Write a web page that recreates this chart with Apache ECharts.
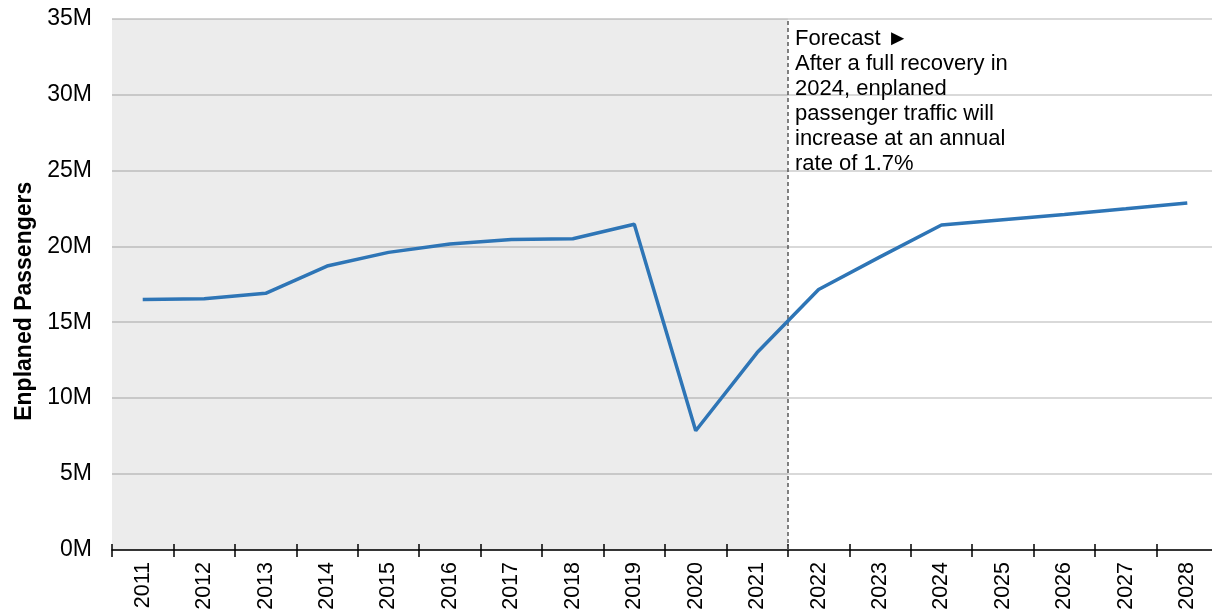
<!DOCTYPE html>
<html>
<head>
<meta charset="utf-8">
<script src="https://cdn.jsdelivr.net/npm/echarts@6/dist/echarts.min.js"></script>
<style>
html,body{margin:0;padding:0;background:#fff;}
#chart{width:1212px;height:615px;}
</style>
</head>
<body>
<div id="chart"></div>
<script>
const years = ['2011','2012','2013','2014','2015','2016','2017','2018','2019','2020','2021','2022','2023','2024','2025','2026','2027','2028'];
const passengers = [16.5, 16.55, 16.9, 18.7, 19.6, 20.15, 20.45, 20.5, 21.45, 7.85, 13.0, 17.15, 19.3, 21.4, 21.75, 22.1, 22.47, 22.85]; // millions
const yTicks = [0, 5, 10, 15, 20, 25, 30, 35];
const historyEndIndex = 11; // shaded history covers 2011–2021
const annotation = 'Forecast \u25BA\nAfter a full recovery in\n2024, enplaned\npassenger traffic will\nincrease at an annual\nrate of 1.7%';

const FONT = '"Liberation Sans", Arial, sans-serif';
const chart = echarts.init(document.getElementById('chart'), null, {renderer: 'canvas'});
chart.setOption({
  animation: false,
  backgroundColor: '#ffffff',
  grid: {left: 112, top: 18.5, width: 1106, height: 531.5, containLabel: false, outerBoundsMode: 'none'},
  xAxis: [
    {
      type: 'category',
      data: years,
      boundaryGap: true,
      axisLine: {show: true, lineStyle: {color: '#000', width: 1.5}},
      axisTick: {show: true, inside: false, length: 7, lineStyle: {color: '#000', width: 1.5}},
      axisLabel: {rotate: 90, margin: 12, color: '#000', fontSize: 21.5, fontFamily: FONT},
      splitLine: {show: false}
    },
    {
      type: 'value',
      min: 0,
      max: years.length,
      interval: 1,
      position: 'bottom',
      axisLine: {show: false},
      axisTick: {show: true, inside: true, length: 6, lineStyle: {color: '#000', width: 1.5}},
      axisLabel: {show: false},
      splitLine: {show: false}
    }
  ],
  yAxis: {
    type: 'value',
    min: yTicks[0],
    max: yTicks[yTicks.length - 1],
    interval: 5,
    name: 'Enplaned Passengers',
    nameLocation: 'middle',
    nameGap: 74,
    nameRotate: 90,
    nameTextStyle: {fontSize: 23, fontWeight: 'bold', color: '#000', fontFamily: FONT, padding: [0, 34, 0, 0]},
    axisLine: {show: false},
    axisTick: {show: false},
    axisLabel: {margin: 20, color: '#000', fontSize: 23, fontFamily: FONT, formatter: v => v + 'M'},
    splitLine: {show: true, lineStyle: {color: '#d9d9d9', width: 2}}
  },
  series: [
    {
      type: 'line',
      xAxisIndex: 1,
      data: [],
      silent: true,
      markArea: {
        silent: true,
        itemStyle: {color: 'rgba(0,0,0,0.075)'},
        data: [[{xAxis: 0}, {xAxis: historyEndIndex}]]
      },
      markLine: {
        silent: true,
        symbol: 'none',
        label: {show: false},
        lineStyle: {color: '#595959', type: [4, 3], width: 1.5},
        data: [{xAxis: historyEndIndex}]
      }
    },
    {
      type: 'line',
      xAxisIndex: 0,
      data: passengers,
      showSymbol: false,
      symbol: 'none',
      lineStyle: {color: '#2e75b6', width: 3.5},
      z: 5
    }
  ],
  graphic: [
    {
      type: 'text',
      left: 795,
      top: 26,
      z: 100,
      style: {
        text: annotation,
        fill: '#000',
        font: '22px ' + FONT,
        lineHeight: 25
      }
    }
  ]
});
</script>
</body>
</html>
